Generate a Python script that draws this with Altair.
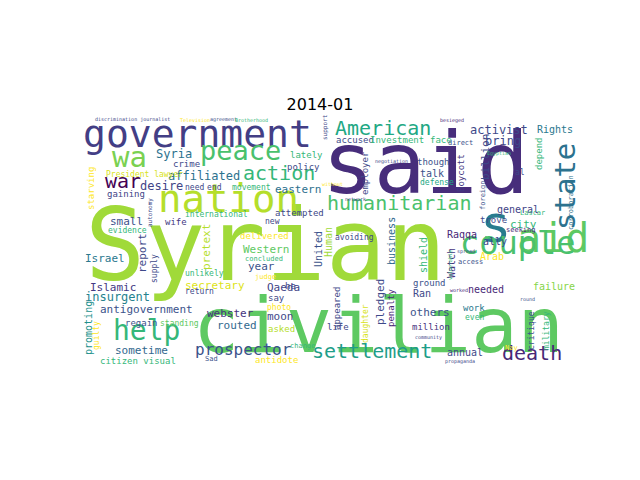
import altair as alt
import pandas as pd

# word cloud for 2014-01: word, left x, baseline y, font size, colour
words = ["Syrian", "civilian", "said", "government", "nation", "peace", "wa", "state", "s", "aid",
         "couple", "humanitarian", "American", "action", "death", "settlement", "war", "help", "prospector",
         "activist", "Rights", "bring", "billion", "affiliated", "desire", "Syria", "eastern", "small",
         "Israel", "report", "Islamic", "insurgent", "antigovernment", "promoting", "sometime", "secretary",
         "Western", "year", "Qaeda", "webster", "routed", "moon", "pretext", "United", "Human", "business",
         "pledged", "shield", "Watch", "Raqqa", "ally", "Arab", "general", "city", "trove", "talk", "failure",
         "needed", "Ran", "others", "million", "annual", "ground", "work", "even", "Boycott", "though",
         "employer", "defense", "accused", "Investment", "face", "lately", "policy", "crime",
         "President lawyer", "need", "end", "movement", "gaining", "starving", "international", "attempted",
         "wife", "new", "evidence", "delivered", "autonomy", "concluded", "unlikely", "supply", "judge",
         "return", "ha", "say", "regain", "standing", "photo", "asked", "guilty", "citizen visual", "Sad",
         "antidote", "change", "appeared", "daughter", "penalty", "life", "critique", "military", "Lascar",
         "seeking", "depend", "foreign", "discrimination journalist", "Television", "agreement",
         "Brotherhood", "support", "besieged", "direct", "Egyptian", "al", "negotiation", "without",
         "network", "avoiding", "access", "spread", "vulnerable", "worked", "round", "community",
         "propaganda", "Nay", "corroboration"]
xs = [85, 193, 322, 83, 158, 200, 112, 575, 480, 517,
      460, 327, 335, 243, 502, 312, 105, 113, 195,
      470, 537, 485, 489, 168, 140, 156, 275, 110,
      85, 146, 90, 85, 100, 92, 115, 185,
      243, 248, 267, 207, 217, 267, 210, 322, 332, 395,
      384, 427, 455, 447, 483, 480, 497, 510, 480, 420, 533,
      468, 413, 410, 412, 447, 413, 463, 465, 464, 417,
      368, 420, 336, 370, 430, 290, 287, 173,
      106, 185, 207, 232, 107, 94, 185, 275,
      165, 265, 108, 240, 152, 245, 185, 157, 255,
      185, 285, 268, 125, 160, 267, 268, 99, 100, 205,
      255, 290, 340, 368, 394, 327, 534, 549, 520,
      506, 542, 485, 95, 180, 210,
      235, 327, 440, 448, 487, 515, 375, 322,
      345, 335, 458, 457, 452, 450, 520, 415,
      445, 505, 573]
ys = [280, 352, 193, 147, 212, 160, 167, 230, 242, 252,
      254, 210, 135, 180, 360, 358, 188, 340, 355,
      134, 133, 145, 180, 180, 190, 158, 193, 225,
      262, 273, 291, 301, 313, 355, 354, 289,
      253, 270, 291, 317, 329, 320, 270, 267, 257, 265,
      325, 273, 278, 238, 245, 260, 213, 228, 223, 177, 290,
      293, 297, 316, 330, 356, 286, 311, 320, 192, 165,
      195, 185, 143, 143, 143, 158, 170, 167,
      177, 190, 190, 190, 197, 210, 217, 216,
      225, 224, 233, 239, 227, 261, 276, 283, 279,
      294, 289, 301, 326, 326, 310, 332, 350, 364, 361,
      363, 348, 330, 343, 327, 330, 350, 350, 215,
      232, 170, 210, 121, 122, 121,
      122, 140, 122, 145, 155, 175, 163, 186,
      201, 240, 264, 253, 280, 292, 301, 339,
      363, 350, 230]
sizes = [100, 77, 86, 38, 39, 27, 29, 29, 52, 40,
         32, 20, 20, 20, 20, 20, 20, 28, 16,
         12, 10, 12, 11, 12, 12, 12, 11, 11,
         11, 11, 11, 12, 11, 10, 11, 11,
         11, 11, 11, 11, 11, 11, 11, 10, 10, 10,
         11, 10, 10, 10, 10, 10, 10, 11, 9, 10, 10,
         10, 10, 11, 9, 10, 9, 9, 8, 9, 9,
         9, 8, 9, 9, 9, 9, 9, 9,
         8, 8, 8, 8, 9, 9, 8, 9,
         9, 8, 8, 9, 6, 7, 8, 8, 7,
         8, 9, 9, 9, 8, 8, 9, 8, 9, 7,
         9, 7, 9, 8, 9, 9, 8, 8, 7,
         7, 9, 7, 5, 5, 5,
         5, 6, 5, 7, 5, 8, 5, 5,
         5, 8, 7, 5, 5, 5, 5, 5,
         5, 7, 7]
colors = ["#a0da39", "#5ec962", "#472d7b", "#433e85", "#b5de2b", "#4ac16d", "#7ad151", "#2c728e", "#287c8e", "#5ec962",
          "#4ac16d", "#4ac16d", "#22a884", "#35b779", "#482878", "#1f9e89", "#440154", "#35b779", "#3b528b",
          "#3e4989", "#2a788e", "#3e4989", "#3e4989", "#2c728e", "#414487", "#2c728e", "#2d708e", "#3b528b",
          "#2a788e", "#3e4989", "#443983", "#26828e", "#3b528b", "#21918c", "#31688e", "#dde318",
          "#5ec962", "#3b528b", "#414487", "#46337e", "#31688e", "#3e4989", "#b5de2b", "#3b528b", "#a0da39", "#31688e",
          "#3e4989", "#35b779", "#46337e", "#482878", "#3e4989", "#fde725", "#414487", "#35b779", "#3e4989", "#3b528b", "#86d549",
          "#482878", "#3e4989", "#3b528b", "#46337e", "#3e4989", "#3b528b", "#2a788e", "#35b779", "#443983", "#3b528b",
          "#3e4989", "#22a884", "#3e4989", "#35b779", "#35b779", "#35b779", "#3e4989", "#3e4989",
          "#d8e219", "#3e4989", "#3e4989", "#35b779", "#414487", "#fde725", "#35b779", "#3e4989",
          "#443983", "#3e4989", "#35b779", "#fde725", "#3e4989", "#35b779", "#35b779", "#3e4989", "#fde725",
          "#3e4989", "#3e4989", "#3e4989", "#3b528b", "#5ec962", "#fde725", "#b5de2b", "#fde725", "#35b779", "#3b528b",
          "#fde725", "#35b779", "#3e4989", "#d8e219", "#482878", "#3e4989", "#3b528b", "#35b779", "#35b779",
          "#482878", "#35b779", "#3b528b", "#3e4989", "#fde725", "#3b528b",
          "#35b779", "#3e4989", "#482878", "#3b528b", "#35b779", "#3e4989", "#3e4989", "#fde725",
          "#3e4989", "#3e4989", "#3b528b", "#3e4989", "#35b779", "#482878", "#3b528b", "#3e4989",
          "#3e4989", "#fde725", "#2c728e"]
vertical = {"state", "billion", "report", "promoting", "pretext", "United", "Human", "business", "pledged",
            "shield", "Watch", "Boycott", "employer", "starving", "autonomy", "supply", "guilty", "appeared",
            "daughter", "penalty", "critique", "military", "depend", "foreign", "support", "vulnerable",
            "corroboration"}

df = pd.DataFrame({"word": words, "x": xs, "y": ys, "size": sizes, "color": colors})
df["angle"] = [270 if w in vertical else 0 for w in words]

xsc = alt.Scale(domain=[8, 632])
ysc = alt.Scale(domain=[8, 472], reverse=True)

cloud = alt.Chart(df).mark_text(align="left", baseline="alphabetic", font="DejaVu Sans Mono").encode(
    x=alt.X("x:Q", scale=xsc, axis=None),
    y=alt.Y("y:Q", scale=ysc, axis=None),
    text="word:N",
    size=alt.Size("size:Q", scale=None),
    color=alt.Color("color:N", scale=None),
    angle=alt.Angle("angle:Q", scale=None),
)

title_df = pd.DataFrame({"t": ["2014-01"], "x": [320], "y": [110]})
title = alt.Chart(title_df).mark_text(align="center", baseline="alphabetic", font="DejaVu Sans",
                                      fontSize=16, color="black").encode(
    x=alt.X("x:Q", scale=xsc, axis=None),
    y=alt.Y("y:Q", scale=ysc, axis=None),
    text="t:N",
)

chart = (cloud + title).properties(
    width=624, height=464, padding=0, autosize="none"
).configure_view(stroke=None)

chart.save("out.html", embed_options={"renderer": "svg", "actions": False})
